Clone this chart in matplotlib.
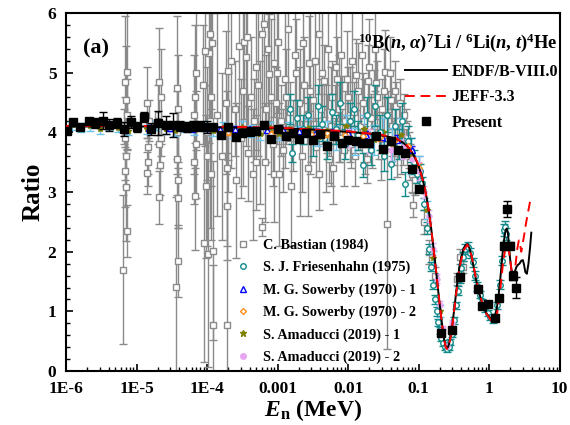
import numpy as np
import matplotlib
matplotlib.use('Agg')
import matplotlib.pyplot as plt
from matplotlib.lines import Line2D

plt.rcParams['font.family'] = 'Liberation Serif'
plt.rcParams['font.weight'] = 'bold'
plt.rcParams['mathtext.fontset'] = 'custom'
plt.rcParams['mathtext.rm'] = 'Liberation Serif:bold'
plt.rcParams['mathtext.it'] = 'Liberation Serif:italic:bold'
plt.rcParams['mathtext.bf'] = 'Liberation Serif:bold'

# ---- evaluations (E in MeV) ----
endf_e = [1e-6, 1e-5, 1e-4, 1e-3, 3e-3, 0.01, 0.02, 0.03, 0.04, 0.05, 0.06, 0.07, 0.08,
          0.09, 0.10, 0.11, 0.12, 0.13, 0.14, 0.15, 0.16, 0.17, 0.18, 0.19, 0.20, 0.21,
          0.22, 0.23, 0.24, 0.25, 0.26, 0.27, 0.28, 0.30, 0.32, 0.34, 0.36, 0.38, 0.40,
          0.43, 0.46, 0.49, 0.52, 0.56, 0.60, 0.65, 0.70, 0.76, 0.82, 0.90, 0.98, 1.06,
          1.13, 1.20, 1.28, 1.36, 1.45, 1.55, 1.65, 1.72, 1.78, 1.84, 1.90, 1.97, 2.05,
          2.13, 2.21, 2.30, 2.42, 2.55, 2.69, 2.85, 3.00, 3.12, 3.25, 3.42, 3.60, 3.80,
          3.95]
endf_r = [4.10, 4.10, 4.09, 4.07, 4.05, 4.01, 3.98, 3.95, 3.92, 3.88, 3.83, 3.76, 3.67,
          3.56, 3.43, 3.28, 3.10, 2.90, 2.66, 2.40, 2.12, 1.85, 1.58, 1.32, 1.08, 0.87,
          0.68, 0.52, 0.42, 0.38, 0.40, 0.46, 0.55, 0.78, 1.05, 1.32, 1.56, 1.76, 1.90,
          2.04, 2.11, 2.13, 2.07, 1.93, 1.75, 1.53, 1.36, 1.21, 1.09, 0.98, 0.92, 0.88,
          0.87, 0.92, 1.05, 1.28, 1.60, 1.98, 2.26, 2.37, 2.39, 2.32, 2.12, 1.90, 1.72,
          1.63, 1.62, 1.66, 1.74, 1.78, 1.80, 1.85, 1.86, 1.78, 1.66, 1.63, 1.80, 2.08,
          2.32]

jeff_e = [1e-6, 1e-5, 1e-4, 1e-3, 0.01, 0.03, 0.05, 0.07, 0.09, 0.10, 0.12, 0.14, 0.16,
          0.18, 0.20, 0.22, 0.24, 0.25, 0.26, 0.28, 0.30, 0.34, 0.38, 0.43, 0.49, 0.56,
          0.65, 0.76, 0.90, 1.06, 1.13, 1.20, 1.30, 1.40, 1.50, 1.58, 1.65, 1.72, 1.80,
          1.90, 2.00, 2.12, 2.25, 2.37, 2.50, 2.63, 2.75, 2.85, 3.00, 3.20, 3.35, 3.55,
          3.82, 3.95]
jeff_r = [4.11, 4.11, 4.10, 4.08, 4.02, 3.96, 3.89, 3.77, 3.57, 3.44, 3.11, 2.67, 2.12,
          1.58, 1.08, 0.67, 0.41, 0.37, 0.39, 0.53, 0.76, 1.30, 1.74, 2.02, 2.12, 1.94,
          1.55, 1.22, 0.97, 0.85, 0.82, 0.85, 0.98, 1.25, 1.58, 1.85, 1.97, 2.10, 2.12,
          2.02, 1.83, 1.60, 1.55, 1.80, 2.05, 2.19, 2.10, 2.00, 2.15, 2.35, 2.50, 2.66,
          2.86, 2.88]

# ---- present work ----
pres_e = [1.02e-6, 1.24e-6, 1.58e-6, 2.09e-6, 2.57e-6, 3.31e-6, 4.07e-6, 5.25e-6, 6.6e-6,
          8.3e-6, 1.02e-5, 1.29e-5, 1.62e-5, 2.04e-5, 2.63e-5, 3.24e-5, 4.07e-5, 5.13e-5,
          6.3e-5, 7.9e-5, 1.0e-4, 1.23e-4, 1.58e-4, 2.0e-4, 2.57e-4, 3.16e-4, 4.0e-4, 5.0e-4,
          6.5e-4, 8.1e-4, 1.02e-3, 1.32e-3, 1.66e-3, 2.0e-3, 2.5e-3, 3.16e-3, 4.0e-3, 5.0e-3,
          6.3e-3, 8.1e-3, 1.0e-2, 1.29e-2, 1.58e-2, 2.0e-2, 2.5e-2, 3.16e-2, 4.0e-2, 5.1e-2,
          6.3e-2, 8.1e-2, 0.10, 0.204, 0.30, 0.39, 0.69, 0.80, 0.955, 1.22, 1.37, 1.60, 1.78,
          1.99, 2.17, 2.37]
pres_r = [4.03, 4.17, 4.09, 4.19, 4.16, 4.20, 4.12, 4.16, 4.06, 4.17, 4.09, 4.26, 4.06,
          4.16, 4.12, 4.12, 4.11, 4.09, 4.11, 4.11, 4.09, 4.09, 3.95, 4.09, 3.93, 3.99, 4.00,
          4.02, 4.12, 3.89, 4.05, 3.94, 3.99, 3.89, 3.99, 3.88, 3.97, 3.78, 3.94, 3.83, 3.88,
          3.86, 3.83, 3.82, 3.94, 3.72, 3.86, 3.71, 3.65, 3.38, 3.06, 0.63, 0.69, 1.58, 1.37,
          1.09, 1.12, 0.89, 1.22, 2.10, 2.72, 2.10, 1.60, 1.40]
pres_err = [0.05, 0.05, 0.05, 0.05, 0.08, 0.15, 0.10, 0.08, 0.12, 0.10, 0.08, 0.08, 0.10,
            0.20, 0.15, 0.20, 0.08, 0.08, 0.08, 0.08, 0.10, 0.05, 0.05, 0.06, 0.05, 0.05,
            0.05, 0.05, 0.05, 0.05, 0.05, 0.05, 0.05, 0.05, 0.05, 0.05, 0.05, 0.05, 0.05,
            0.05, 0.05, 0.05, 0.05, 0.05, 0.05, 0.05, 0.05, 0.05, 0.05, 0.05, 0.05, 0.04,
            0.04, 0.05, 0.04, 0.04, 0.04, 0.04, 0.05, 0.06, 0.13, 0.06, 0.08, 0.18]

# ---- C. Bastian (1984): (E, ratio, error) ----
bas_rows = [
    (6.5e-6, 1.70, 1.25), (7.3e-6, 2.35, 0.43), (7.0e-6, 3.08, 0.90), (6.8e-6, 3.35, 0.60),
    (7.1e-6, 3.60, 0.50), (6.9e-6, 3.90, 0.70), (7.2e-6, 4.30, 0.60), (7.0e-6, 4.55, 0.90),
    (6.8e-6, 4.85, 1.10), (7.2e-6, 5.02, 1.30), (6.6e-6, 4.10, 0.30),
    (1.40e-5, 3.32, 0.35), (1.45e-5, 3.75, 0.45), (1.50e-5, 4.20, 0.35), (1.42e-5, 4.50, 0.60),
    (1.47e-5, 3.50, 0.40),
    (2.10e-5, 2.91, 0.45), (2.15e-5, 3.45, 0.50), (2.05e-5, 3.80, 0.40), (2.20e-5, 4.60, 0.80),
    (2.10e-5, 4.85, 0.90), (2.00e-5, 4.30, 0.50), (2.20e-5, 3.90, 0.30),
    (3.60e-5, 1.41, 1.50), (3.90e-5, 1.84, 0.60), (3.80e-5, 3.20, 0.80), (3.70e-5, 3.55, 0.60),
    (3.75e-5, 4.00, 0.70), (3.85e-5, 4.40, 0.90), (3.70e-5, 4.75, 1.20), (3.80e-5, 2.90, 0.50),
    (6.7e-5, 2.93, 0.90), (6.5e-5, 3.50, 0.70), (6.9e-5, 3.80, 0.90), (6.6e-5, 4.30, 1.00),
    (6.8e-5, 4.60, 1.20), (7.0e-5, 5.00, 1.30),
    (9.0e-5, 2.15, 2.00), (1.03e-4, 1.96, 1.90), (1.20e-4, 2.02, 1.50), (1.20e-4, 0.78, 1.00),
    (9.5e-5, 3.10, 1.20), (1.00e-4, 3.60, 1.50), (1.10e-4, 4.20, 1.80), (1.15e-4, 4.60, 1.50),
    (1.05e-4, 5.33, 1.50), (9.3e-5, 5.37, 1.60), (1.08e-4, 5.65, 2.00), (1.18e-4, 5.50, 1.50),
    (9.8e-5, 4.00, 0.80), (1.13e-4, 3.30, 1.10), (8.7e-5, 4.80, 1.00),
    (1.40e-4, 4.30, 1.70), (1.60e-4, 3.60, 1.40),
    (1.93e-4, 0.77, 2.00), (1.93e-4, 2.76, 0.90), (1.90e-4, 3.40, 1.30), (1.95e-4, 4.00, 1.00),
    (1.85e-4, 4.50, 1.20), (2.00e-4, 5.03, 1.50), (2.20e-4, 5.20, 1.80),
    (2.5e-4, 4.40, 0.80), (2.6e-4, 3.20, 1.30), (2.8e-4, 5.45, 1.50), (3.0e-4, 3.90, 1.00),
    (3.2e-4, 4.70, 1.60), (3.3e-4, 5.52, 1.30), (3.5e-4, 5.27, 1.50), (3.7e-4, 5.60, 1.50),
    (3.8e-4, 3.65, 0.80), (4.2e-4, 4.60, 1.00), (4.4e-4, 3.30, 1.10), (4.6e-4, 4.20, 0.70),
    (4.9e-4, 5.10, 1.40), (5.0e-4, 3.50, 0.80), (5.3e-4, 4.80, 1.20), (5.6e-4, 4.00, 1.20),
    (5.9e-4, 5.65, 1.50), (5.9e-4, 2.41, 0.15), (6.3e-4, 5.82, 1.40), (6.6e-4, 3.50, 1.00),
    (6.8e-4, 4.40, 0.90), (7.2e-4, 5.40, 1.20), (7.5e-4, 4.98, 1.00), (8.0e-4, 4.60, 1.30),
    (8.5e-4, 3.80, 0.70), (8.8e-4, 3.30, 0.80), (9.0e-4, 5.16, 0.90), (9.5e-4, 4.50, 0.60),
    (9.8e-4, 5.00, 1.20),
    (1.00e-3, 5.52, 1.20), (1.05e-3, 3.30, 1.20), (1.10e-3, 4.20, 0.60), (1.20e-3, 3.70, 0.70),
    (1.25e-3, 4.90, 1.50), (1.30e-3, 4.60, 0.80), (1.40e-3, 5.74, 1.30), (1.50e-3, 4.35, 0.50),
    (1.55e-3, 3.10, 1.00), (1.65e-3, 3.95, 0.60), (1.75e-3, 5.30, 1.20), (1.80e-3, 5.00, 0.90),
    (2.00e-3, 4.50, 0.60), (2.10e-3, 4.00, 1.40), (2.20e-3, 3.60, 0.60), (2.30e-3, 5.50, 1.00),
    (2.40e-3, 4.80, 0.80), (2.60e-3, 4.30, 0.50), (2.70e-3, 3.40, 0.80), (2.80e-3, 5.16, 0.80),
    (2.90e-3, 4.70, 1.40), (3.00e-3, 4.00, 0.50), (3.20e-3, 4.55, 0.60), (3.40e-3, 5.20, 1.00),
    (3.50e-3, 3.75, 0.50), (3.80e-3, 5.65, 1.00), (3.90e-3, 3.30, 0.60), (4.10e-3, 4.40, 0.50),
    (4.30e-3, 5.00, 1.20), (4.50e-3, 4.86, 0.60), (4.80e-3, 3.90, 0.90), (5.00e-3, 4.15, 0.50),
    (5.20e-3, 5.40, 1.00), (5.40e-3, 3.55, 0.40), (5.70e-3, 4.10, 1.00), (5.90e-3, 4.60, 0.60),
    (6.10e-3, 3.40, 0.60), (6.40e-3, 4.30, 0.50), (6.70e-3, 5.10, 1.00), (7.00e-3, 4.90, 0.70),
    (7.30e-3, 4.40, 0.90), (7.60e-3, 3.90, 0.40), (8.00e-3, 5.30, 1.10), (8.30e-3, 4.45, 0.50),
    (8.70e-3, 3.70, 0.60), (9.00e-3, 4.20, 0.50), (9.50e-3, 4.90, 0.80),
    (1.00e-2, 4.60, 0.50), (1.05e-2, 4.30, 0.80), (1.10e-2, 3.80, 0.40), (1.15e-2, 5.20, 0.90),
    (1.20e-2, 4.35, 0.50), (1.25e-2, 3.60, 0.50), (1.30e-2, 4.97, 0.60), (1.40e-2, 4.70, 0.80),
    (1.45e-2, 4.10, 0.40), (1.55e-2, 5.30, 0.80), (1.60e-2, 4.50, 0.50), (1.70e-2, 4.20, 0.70),
    (1.75e-2, 3.70, 0.40), (1.85e-2, 3.55, 0.40), (1.90e-2, 4.86, 0.60), (2.00e-2, 5.10, 0.80),
    (2.10e-2, 4.25, 0.40), (2.20e-2, 4.00, 0.60), (2.30e-2, 4.55, 0.50), (2.40e-2, 5.40, 0.70),
    (2.50e-2, 4.83, 0.60), (2.60e-2, 4.60, 0.60), (2.70e-2, 3.95, 0.40), (2.90e-2, 3.60, 0.40),
    (3.00e-2, 4.40, 0.50), (3.20e-2, 4.70, 0.70), (3.30e-2, 5.02, 0.70), (3.50e-2, 2.47, 2.10),
    (3.70e-2, 4.30, 0.40), (3.90e-2, 5.00, 0.60), (4.00e-2, 4.55, 0.50), (4.20e-2, 4.10, 0.50),
    (4.40e-2, 3.85, 0.40), (4.60e-2, 4.70, 0.50), (4.80e-2, 4.45, 0.40), (5.00e-2, 3.65, 0.40),
    (5.20e-2, 4.20, 0.30), (5.50e-2, 4.50, 0.40), (5.70e-2, 3.60, 0.30), (6.00e-2, 3.80, 0.35),
    (6.20e-2, 4.30, 0.35), (6.50e-2, 4.10, 0.30), (6.80e-2, 3.90, 0.30), (7.20e-2, 3.70, 0.30),
    (7.50e-2, 3.50, 0.30), (8.00e-2, 3.30, 0.30), (8.30e-2, 2.78, 0.20), (9.00e-2, 3.20, 0.25),
    (0.10, 3.30, 0.30), (0.12, 2.50, 0.20), (0.14, 2.00, 0.20), (0.17, 1.60, 0.15),
    (0.35, 1.55, 0.10), (0.39, 1.92, 0.12), (0.42, 1.75, 0.10),
]
bas_e, bas_r, bas_err = map(list, zip(*bas_rows))

# ---- S. J. Friesenhahn (1975) ----
fri_e = [1.5e-3, 1.6e-3, 1.9e-3, 2.3e-3, 2.7e-3, 3.2e-3, 3.7e-3, 4.3e-3, 5.0e-3, 5.8e-3,
         6.7e-3, 7.7e-3, 9.0e-3, 1.05e-2, 1.2e-2, 1.4e-2, 1.6e-2, 1.85e-2, 2.1e-2, 2.4e-2,
         2.8e-2, 3.2e-2, 3.6e-2, 4.1e-2, 4.6e-2, 5.2e-2, 5.8e-2, 6.3e-2, 7.0e-2, 7.8e-2,
         8.6e-2, 0.095, 0.105, 0.11, 0.12, 0.13, 0.14, 0.15, 0.16, 0.17, 0.18, 0.19, 0.20,
         0.21, 0.22, 0.235, 0.25, 0.265, 0.28, 0.30, 0.32, 0.34, 0.36, 0.38, 0.40, 0.43,
         0.46, 0.50, 0.54, 0.58, 0.63, 0.68, 0.74, 0.80, 0.87, 0.95, 1.03, 1.12, 1.20, 1.30,
         1.40, 1.50, 1.60, 1.66, 1.72]
fri_r = [4.40, 3.66, 4.25, 4.05, 4.30, 3.85, 4.45, 4.15, 3.75, 4.35,
         4.05, 4.50, 3.80, 4.20, 4.40, 3.95, 3.45, 4.30, 3.70, 4.45,
         4.00, 3.60, 4.30, 3.47, 4.10, 3.80, 4.20, 3.13, 3.85, 3.70,
         3.50, 3.30, 3.35, 3.15, 2.80, 2.40, 2.05, 1.75, 1.45, 1.20, 1.00, 0.82, 0.68,
         0.55, 0.47, 0.40, 0.37, 0.40, 0.48, 0.62, 0.85, 1.10, 1.35, 1.55, 1.72, 1.92,
         2.05, 2.08, 1.98, 1.82, 1.60, 1.42, 1.28, 1.15, 1.05, 0.97, 0.90, 0.85, 0.90, 1.10,
         1.45, 1.85, 2.36, 2.42, 2.30]
fri_err = [0.25, 0.15, 0.30, 0.25, 0.30, 0.25, 0.35, 0.30, 0.20, 0.30,
           0.25, 0.35, 0.25, 0.30, 0.30, 0.25, 0.20, 0.30, 0.25, 0.35,
           0.30, 0.25, 0.30, 0.25, 0.30, 0.25, 0.30, 0.20, 0.25, 0.20,
           0.20, 0.15, 0.12, 0.10, 0.10, 0.10, 0.08, 0.08, 0.08, 0.07, 0.07, 0.06, 0.06,
           0.05, 0.05, 0.05, 0.05, 0.05, 0.05, 0.05, 0.06, 0.06, 0.07, 0.07, 0.08, 0.08,
           0.08, 0.08, 0.08, 0.08, 0.07, 0.07, 0.06, 0.06, 0.06, 0.05, 0.05, 0.05, 0.05, 0.06,
           0.07, 0.08, 0.10, 0.10, 0.10]

# ---- M. G. Sowerby (1970) ----
sow1_e = [1.5e-5, 3e-5, 6e-5, 1e-4, 1.5e-4, 2.5e-4, 4e-4, 7e-4, 1.2e-3, 2e-3, 3.5e-3,
          6e-3, 1e-2, 1.8e-2, 3e-2, 5e-2, 8e-2]
sow1_r = [4.08, 4.07, 4.06, 4.07, 4.05, 4.06, 4.05, 4.04, 4.04, 4.03, 4.01, 4.00, 3.99,
          3.96, 3.93, 3.88, 3.70]
sow1_err = [0.04, 0.04, 0.04, 0.04, 0.04, 0.04, 0.04, 0.04, 0.05, 0.05, 0.05, 0.06, 0.06,
            0.07, 0.08, 0.08, 0.08]
sow2_e = [2e-4, 4e-4, 8e-4, 1.5e-3, 3e-3, 5e-3, 9e-3, 1.6e-2, 2.8e-2, 4.5e-2, 7e-2, 0.1]
sow2_r = [4.00, 4.02, 3.98, 3.97, 3.98, 3.99, 3.95, 3.94, 3.92, 3.85, 3.78, 3.40]
sow2_err = [0.05, 0.05, 0.05, 0.05, 0.06, 0.06, 0.06, 0.07, 0.07, 0.08, 0.08, 0.08]

# ---- S. Amaducci (2019) ----
ama1_e = [1.2e-6, 1.6e-6, 2.2e-6, 3e-6, 4e-6, 5.5e-6, 7.5e-6, 1e-5, 1.4e-5, 1.9e-5,
          2.6e-5, 3.5e-5, 4.8e-5, 6.5e-5, 9e-5, 1.2e-4, 1.7e-4, 2.3e-4, 3.1e-4, 4.2e-4,
          5.7e-4, 7.8e-4, 1.05e-3, 1.45e-3, 2e-3, 2.7e-3, 3.7e-3, 5e-3, 6.8e-3, 9.2e-3,
          1.25e-2, 1.7e-2, 2.3e-2, 3.1e-2, 4.2e-2, 5.7e-2, 7.7e-2, 0.1, 0.13, 0.16, 0.2]
ama1_r = [4.12, 4.08, 4.10, 4.05, 4.12, 4.08, 4.03, 4.10, 4.05, 4.12,
          4.06, 4.02, 4.09, 4.04, 4.10, 4.02, 4.07, 4.00, 4.09, 4.03,
          3.98, 4.08, 3.97, 4.05, 3.98, 4.08, 3.92, 4.02, 3.90, 4.10,
          3.85, 4.05, 3.88, 4.00, 3.80, 3.95, 3.60, 3.35, 2.70, 1.90, 1.00]
ama1_err = [0.08, 0.08, 0.08, 0.08, 0.08, 0.08, 0.08, 0.08, 0.08, 0.08,
            0.08, 0.08, 0.08, 0.08, 0.08, 0.08, 0.10, 0.10, 0.10, 0.10,
            0.10, 0.10, 0.10, 0.12, 0.12, 0.15, 0.15, 0.18, 0.20, 0.20,
            0.22, 0.25, 0.25, 0.25, 0.28, 0.30, 0.30, 0.25, 0.15, 0.12, 0.10]
ama2_e = [0.01, 0.02, 0.04, 0.06, 0.08, 0.10, 0.12, 0.14, 0.16, 0.18, 0.20, 0.22, 0.25, 0.30]
ama2_r = [3.90, 3.85, 3.70, 3.75, 3.55, 3.35, 3.00, 2.60, 2.05, 1.55, 1.10, 0.70, 0.42, 0.80]
ama2_err = [0.15, 0.20, 0.20, 0.20, 0.20, 0.15, 0.10, 0.10, 0.10, 0.08, 0.08, 0.06, 0.05, 0.06]

GREY = '#8a8a8a'
TEAL = '#138a8a'
LBLUE = '#6cc4ee'

fig = plt.figure(figsize=(5.7, 4.25), dpi=100)
ax = fig.add_axes([0.116, 0.127, 0.866, 0.842])

ax.errorbar(bas_e, bas_r, yerr=bas_err, fmt='s', ms=3.8, mfc='white', mec=GREY, mew=1.0,
            ecolor=GREY, elinewidth=1.0, capsize=3, capthick=1.0, zorder=2)
ax.errorbar(ama1_e, ama1_r, yerr=ama1_err, fmt='*', ms=4, color='#808000',
            ecolor=LBLUE, elinewidth=1.0, capsize=3, zorder=3)
ax.errorbar(fri_e, fri_r, yerr=fri_err, fmt='o', ms=4, mfc='white', mec=TEAL, mew=1.0,
            ecolor=TEAL, elinewidth=1.0, capsize=3, zorder=3)
ax.errorbar(sow1_e, sow1_r, yerr=sow1_err, fmt='^', ms=4, mfc='white', mec='blue',
            ecolor='blue', elinewidth=1.0, capsize=2, zorder=3)
ax.errorbar(sow2_e, sow2_r, yerr=sow2_err, fmt='D', ms=3, mfc='white', mec='#ff8c1a',
            ecolor='#ff8c1a', elinewidth=1.0, capsize=2, zorder=3)
ax.errorbar(ama2_e, ama2_r, yerr=ama2_err, fmt='o', ms=3.5, color='#e8a6f2',
            ecolor='#e8a6f2', elinewidth=1.0, capsize=2, zorder=3)

ax.plot(endf_e, endf_r, '-', color='black', lw=1.4, zorder=5)
ax.plot(jeff_e, jeff_r, '--', color='red', lw=1.4, dashes=(5, 3), zorder=6)
ax.errorbar(pres_e, pres_r, yerr=pres_err, fmt='s', ms=5.8, color='black',
            ecolor='black', elinewidth=1.0, capsize=3, zorder=7)

ax.set_xscale('log')
ax.set_xlim(1e-6, 10)
ax.set_ylim(0, 6)
ax.set_xticks([1e-6, 1e-5, 1e-4, 1e-3, 1e-2, 1e-1, 1, 10])
ax.set_xticklabels(['1E-6', '1E-5', '1E-4', '0.001', '0.01', '0.1', '1', '10'])
ax.set_yticks([0, 1, 2, 3, 4, 5, 6])
ax.yaxis.set_minor_locator(matplotlib.ticker.MultipleLocator(0.2))
ax.tick_params(which='both', direction='in', labelsize=12.5)
ax.tick_params(which='major', length=5, width=1.2)
ax.tick_params(which='minor', length=3, width=1.0)
ax.tick_params(axis='x', pad=7.5)
ax.tick_params(axis='y', pad=7)
for sp in ax.spines.values():
    sp.set_linewidth(1.5)

ax.set_ylabel('Ratio', fontsize=18, fontweight='bold', labelpad=2)
ax.set_xlabel(r'$E$$_{\rm n}$ (MeV)', fontsize=17, fontweight='bold', labelpad=0)
ax.text(0.035, 0.9, '(a)', transform=ax.transAxes, fontsize=16, fontweight='bold',
        va='center')

# legends
h_eval = [Line2D([], [], color='black', lw=1.4),
          Line2D([], [], color='red', lw=1.4, ls='--', dashes=(5, 3)),
          Line2D([], [], color='black', marker='s', ms=5.8, ls='none')]
leg1 = ax.legend(h_eval, ['ENDF/B-VIII.0', 'JEFF-3.3', 'Present'],
                 title=r'$^{10}$B($n$, $\alpha$)$^{7}$Li / $^{6}$Li($n$, $t$)$^{4}$He',
                 loc='upper right', bbox_to_anchor=(1.016, 0.975), frameon=False,
                 prop={'size': 11.5, 'weight': 'bold'},
                 title_fontproperties={'size': 13.3, 'weight': 'bold'},
                 handlelength=2.6, handletextpad=0.3, labelspacing=0.6, borderaxespad=0.2)
leg1._legend_box.align = 'right'
ax.add_artist(leg1)

h_exp = [Line2D([], [], marker='s', ms=4, mfc='white', mec=GREY, ls='none'),
         Line2D([], [], marker='o', ms=4, mfc='white', mec=TEAL, ls='none'),
         Line2D([], [], marker='^', ms=4, mfc='white', mec='blue', ls='none'),
         Line2D([], [], marker='D', ms=3, mfc='white', mec='#ff8c1a', ls='none'),
         Line2D([], [], marker='*', ms=5, color='#808000', ls='none'),
         Line2D([], [], marker='o', ms=4, color='#e8a6f2', ls='none')]
ax.legend(h_exp, ['C. Bastian (1984)', 'S. J. Friesenhahn (1975)', 'M. G. Sowerby (1970) - 1',
                  'M. G. Sowerby (1970) - 2', 'S. Amaducci (2019) - 1', 'S. Amaducci (2019) - 2'],
          loc='lower left', bbox_to_anchor=(0.318, -0.016), frameon=False,
          prop={'size': 10.3, 'weight': 'bold'}, handlelength=1.0, handletextpad=0.9,
          labelspacing=0.62)

fig.savefig('out.png', dpi=100)
